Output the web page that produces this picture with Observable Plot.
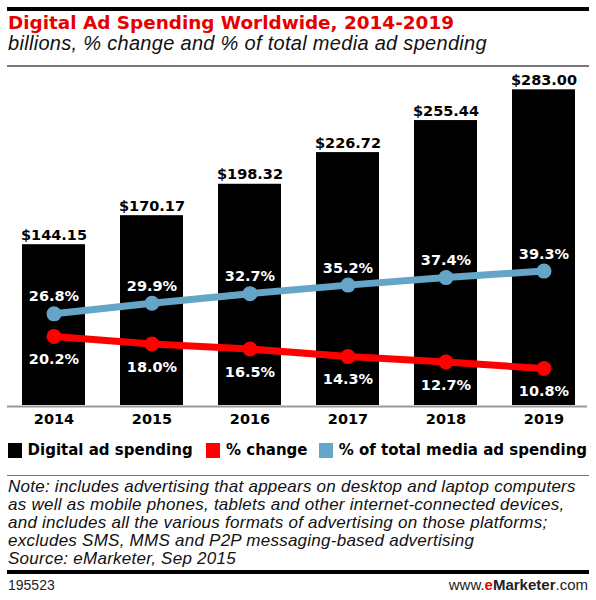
<!DOCTYPE html>
<html>
<head>
<meta charset="utf-8">
<script src="https://cdn.jsdelivr.net/npm/d3@7"></script>
<script src="https://cdn.jsdelivr.net/npm/@observablehq/plot@0.6"></script>
<style>
  html, body { margin: 0; padding: 0; background: #fff; }
  #page { position: relative; width: 596px; height: 600px; overflow: hidden; background: #fff; }
  .abs { position: absolute; white-space: nowrap; }
  .rule { position: absolute; left: 7px; width: 582px; }
  #title { left: 8px; top: 14.4px; font: bold 18.4px/1 "DejaVu Sans", sans-serif; color: #e60000; }
  #subtitle { left: 8px; top: 33px; font: italic 20px/1 "Liberation Sans", sans-serif; letter-spacing: 0.3px; color: #111; }
  #chart { position: absolute; left: 0; top: 68px; }
  .leg { position: absolute; top: 443px; font: bold 15px/1 "DejaVu Sans", sans-serif; color: #000; display: flex; align-items: center; }
  .sw { display: inline-block; width: 14px; height: 14.5px; margin-right: 6px; }
  #note { left: 8px; top: 478px; font: italic 17px/18px "Liberation Sans", sans-serif; letter-spacing: 0.25px; color: #111; }
  #fid { left: 8px; top: 578px; font: 14px/1 "Liberation Sans", sans-serif; color: #222; }
  #site { right: 8px; top: 577px; font: 15px/1 "Liberation Sans", sans-serif; color: #222; }
</style>
</head>
<body>
<div id="page">
  <div class="rule" style="top:7px;height:4px;background:#000"></div>
  <div id="title" class="abs">Digital Ad Spending Worldwide, 2014-2019</div>
  <div id="subtitle" class="abs">billions, % change and % of total media ad spending</div>
  <div class="rule" style="top:65px;height:1.5px;background:#777"></div>
  <div id="chart"></div>
  <div id="legend"></div>
  <div class="rule" style="top:474.5px;height:1.5px;background:#777"></div>
  <div id="note" class="abs"></div>
  <div class="rule" style="top:570px;height:4px;background:#000"></div>
  <div id="fid" class="abs">195523</div>
  <div id="site" class="abs">www.<span style="color:#e60000;font-weight:bold">e</span><b>Marketer</b>.com</div>
</div>
<script>
// ---- data ----
const years = ["2014", "2015", "2016", "2017", "2018", "2019"];
const adSpending = [144.15, 170.17, 198.32, 226.72, 255.44, 283.00];   // billions
const pctChange = [20.2, 18.0, 16.5, 14.3, 12.7, 10.8];                 // % change
const pctOfTotal = [26.8, 29.9, 32.7, 35.2, 37.4, 39.3];                // % of total media ad spending
const seriesNames = ["Digital ad spending", "% change", "% of total media ad spending"];
const noteLines = [
  "Note: includes advertising that appears on desktop and laptop computers",
  "as well as mobile phones, tablets and other internet-connected devices,",
  "and includes all the various formats of advertising on those platforms;",
  "excludes SMS, MMS and P2P messaging-based advertising",
  "Source: eMarketer, Sep 2015"
];

const colors = ["#000000", "#ff0000", "#64a5c8"];
// secondary (percent) axis expressed in billions-units of the shared y scale
const PCT = 3.066;

const rows = years.map((year, i) => ({
  year, spend: adSpending[i], change: pctChange[i], share: pctOfTotal[i]
}));

const bold = {fontFamily: "DejaVu Sans", fontWeight: "bold", fontSize: 14.5};

const chart = Plot.plot({
  width: 596,
  height: 368,
  marginLeft: 20,
  marginRight: 19,
  marginTop: 2.35,
  marginBottom: 31,
  x: {type: "band", domain: years, paddingInner: 0.36, paddingOuter: 0},
  y: {domain: [0, 300], axis: null},
  style: {background: "transparent", overflow: "visible"},
  marks: [
    Plot.barY(rows, {x: "year", y: "spend", fill: colors[0]}),
    Plot.ruleY([0], {stroke: "#999", strokeWidth: 2, insetLeft: -13, insetRight: -10, dy: 1}),
    Plot.text(rows, {x: "year", y: "spend", text: d => "$" + d.spend.toFixed(2), lineAnchor: "bottom", dy: -5, fill: "#000", ...bold}),
    Plot.line(rows, {x: "year", y: d => d.share * PCT, stroke: colors[2], strokeWidth: 7}),
    Plot.dot(rows, {x: "year", y: d => d.share * PCT, r: 7.5, fill: colors[2], stroke: "none"}),
    Plot.line(rows, {x: "year", y: d => d.change * PCT, stroke: colors[1], strokeWidth: 7}),
    Plot.dot(rows, {x: "year", y: d => d.change * PCT, r: 7.5, fill: colors[1], stroke: "none"}),
    Plot.text(rows, {x: "year", y: d => d.share * PCT, text: d => d.share.toFixed(1) + "%", lineAnchor: "bottom", dy: -12.5, fill: "#fff", ...bold}),
    Plot.text(rows, {x: "year", y: d => d.change * PCT, text: d => d.change.toFixed(1) + "%", lineAnchor: "bottom", dy: 27.8, fill: "#fff", ...bold}),
    Plot.axisX({tickSize: 0, tickPadding: 8, label: null, fill: "#000", ...bold})
  ]
});
document.getElementById("chart").append(chart);

// legend
const legendX = [7.6, 206, 318.7];
const legend = document.getElementById("legend");
seriesNames.forEach((name, i) => {
  const item = document.createElement("div");
  item.className = "leg";
  item.style.left = legendX[i] + "px";
  const sw = document.createElement("span");
  sw.className = "sw";
  sw.style.background = colors[i];
  item.append(sw, document.createTextNode(name));
  legend.append(item);
});

document.getElementById("note").innerHTML = noteLines.join("<br>");
</script>
</body>
</html>
